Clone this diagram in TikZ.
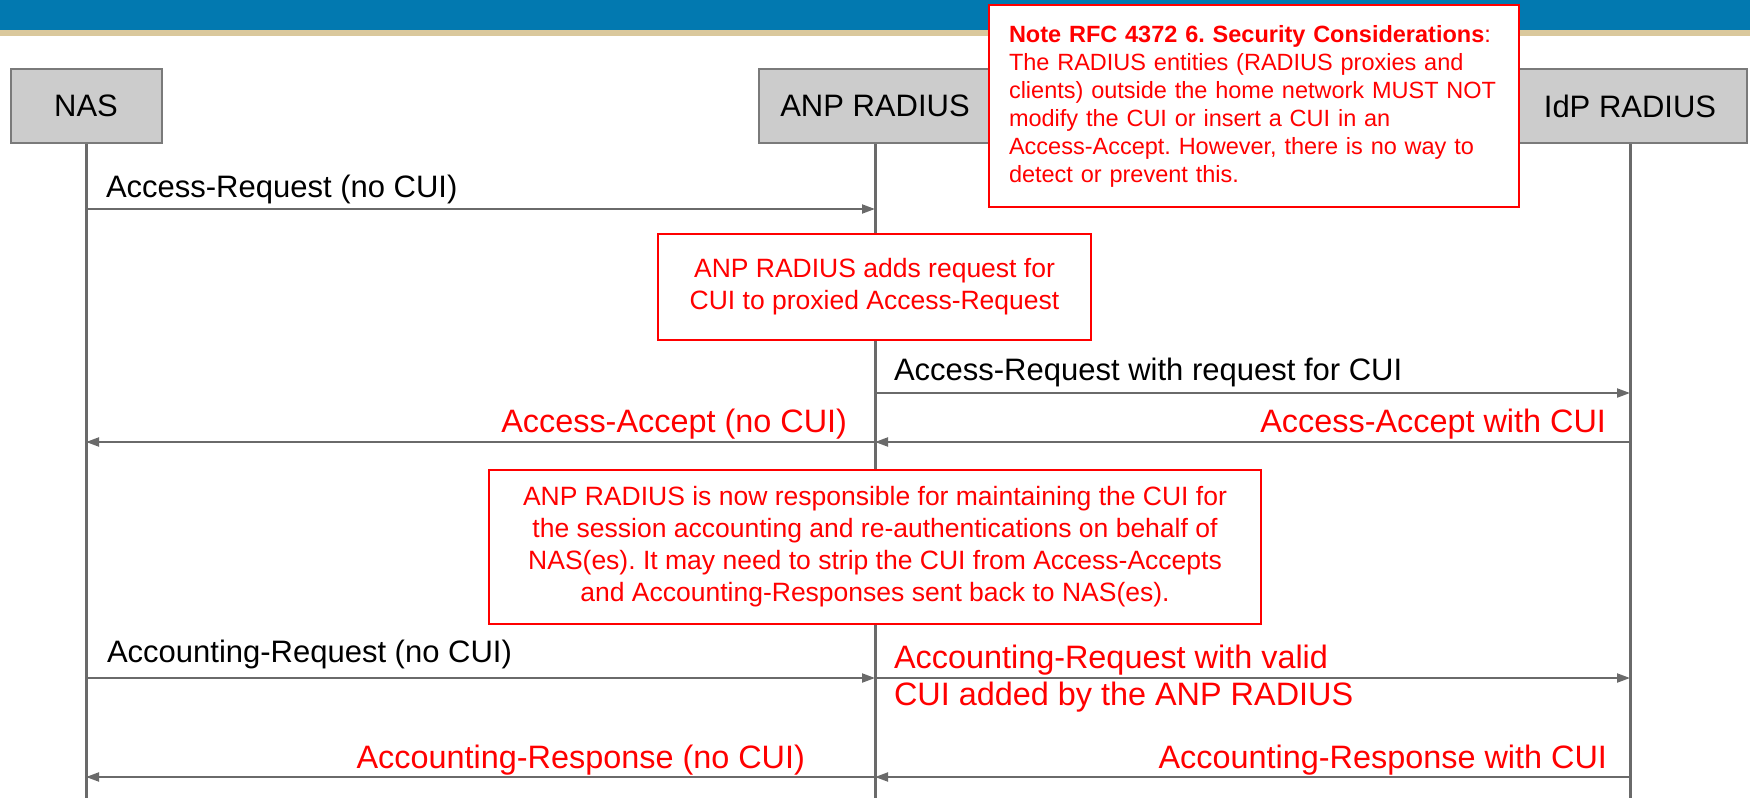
\documentclass[tikz,border=0pt]{standalone}
\usepackage{fontspec}
\setmainfont{Liberation Sans}
\frenchspacing
\usetikzlibrary{arrows.meta,positioning}
\definecolor{barblue}{HTML}{0279B0}
\definecolor{bartan}{HTML}{DAC89C}
\definecolor{headgray}{HTML}{CCCCCC}
\definecolor{edgegray}{HTML}{7A7A7A}
\definecolor{linegray}{HTML}{6A6A6A}
\definecolor{notered}{HTML}{FF0000}
\tikzset{
  >={Triangle[length=6.5pt,width=4.5pt]},
  every node/.append style={font=\fontsize{15.5}{18}\selectfont},
}
\begin{document}
\begin{tikzpicture}[
  x=0.5pt, y=-0.5pt,
  entity/.style={draw=edgegray, fill=headgray, line width=1pt, minimum height=37pt, inner sep=0pt},
  lifeline/.style={draw=linegray, line width=1.5pt},
  msg/.style={->, draw=linegray, line width=1pt},
  lbl/.style={inner sep=0pt},
  redlbl/.style={lbl, text=notered, font=\fontsize{16.2}{19}\selectfont},
  remark/.style={draw=notered, fill=white, line width=1pt, text=notered, align=center, inner sep=0pt,
    font=\fontsize{13.25}{16}\selectfont}
]
\useasboundingbox (0,0) rectangle (1750,798);

% title bar
\fill[barblue] (0,0) rectangle (1750,30);
\fill[bartan] (0,30) rectangle (1750,36);

% entities
\node[entity, minimum width=75.5pt] (nas) at (86,106) {NAS};
\node[entity, minimum width=116pt] (anp) at (875,106) {ANP RADIUS};
\node[entity, minimum width=117pt] (idp) at (1630,106) {IdP RADIUS};

% lifelines and message rows
\foreach \who in {nas,anp,idp} {
  \coordinate (\who end) at (\who |- 0,798);
  \draw[lifeline] (\who.south) -- (\who end);
}
\foreach \row/\ypos in {1/209,2/393,3/442,4/678,5/777}
  \foreach \who in {nas,anp,idp}
    \coordinate (\who\row) at (\who |- 0,\ypos);

% messages
\draw[msg] (nas1) -- (anp1)
  node[lbl, pos=0, anchor=base west, xshift=9.5pt, yshift=6pt] {Access-Request (no CUI)};
\draw[msg] (anp2) -- (idp2)
  node[lbl, pos=0, anchor=base west, xshift=9pt, yshift=6.5pt] {Access-Request with request for CUI};
\draw[msg] (idp3) -- (anp3)
  node[redlbl, pos=0, anchor=base east, xshift=-11.5pt, yshift=5pt] {Access-Accept with CUI};
\draw[msg] (anp3) -- (nas3)
  node[redlbl, pos=0, anchor=base east, xshift=-13.5pt, yshift=5pt] {Access-Accept (no CUI)};
\draw[msg] (nas4) -- (anp4)
  node[lbl, pos=0, anchor=base west, xshift=10pt, yshift=8pt] {Accounting-Request (no CUI)};
\draw[msg] (anp4) -- (idp4)
  node[redlbl, pos=0, anchor=base west, xshift=9pt, yshift=5pt] {Accounting-Request with valid}
  node[redlbl, pos=0, anchor=base west, xshift=9pt, yshift=-13.5pt] {CUI added by the ANP RADIUS};
\draw[msg] (idp5) -- (anp5)
  node[redlbl, pos=0, anchor=base east, xshift=-11pt, yshift=4.5pt] {Accounting-Response with CUI};
\draw[msg] (anp5) -- (nas5)
  node[redlbl, pos=0, anchor=base east, xshift=-34.5pt, yshift=4.5pt] {Accounting-Response (no CUI)};

% remarks
\node[remark, minimum width=216.5pt, minimum height=53pt] (adds) at (874.5,287)
  {ANP RADIUS adds request for\\CUI to proxied Access-Request};
\node[remark, minimum width=386pt, minimum height=77pt] (keeps) at (875,547)
  {ANP RADIUS is now responsible for maintaining the CUI for\\
   the session accounting and re-authentications on behalf of\\
   NAS(es). It may need to strip the CUI from Access-Accepts\\
   and Accounting-Responses sent back to NAS(es).};

% RFC note on top
\node[remark, align=left, text width=245pt, minimum width=265pt, minimum height=101pt,
  anchor=north west, font=\fontsize{11.75}{14}\selectfont] (rfc) at (988,4)
  {\textbf{Note RFC 4372 6. Security Considerations}:\\
   The RADIUS entities (RADIUS proxies and\\
   clients) outside the home network MUST NOT\\
   modify the CUI or insert a CUI in an\\
   Access-Accept. However, there is no way to\\
   detect or prevent this.};

\end{tikzpicture}
\end{document}
